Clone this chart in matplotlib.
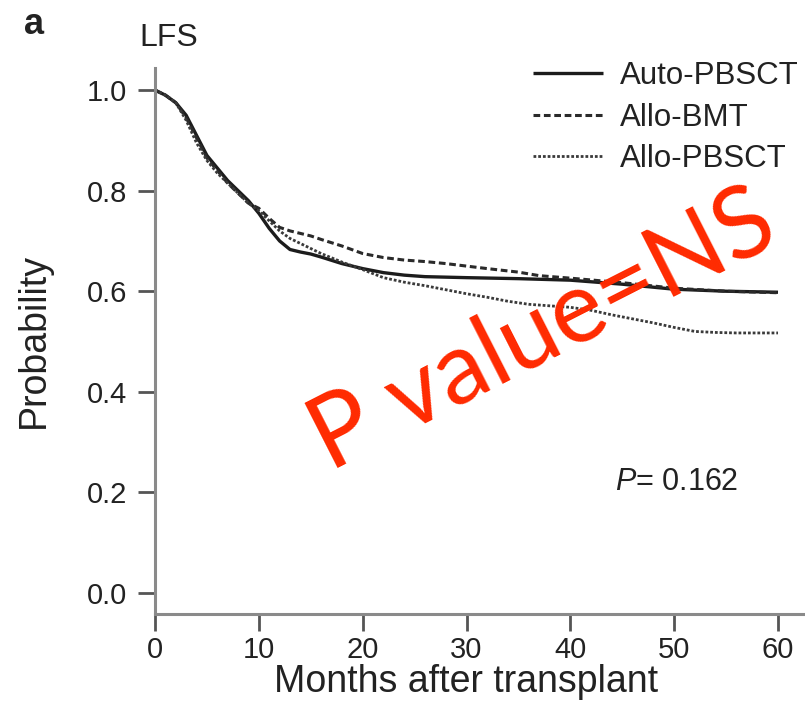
import matplotlib
matplotlib.use("Agg")
import matplotlib.pyplot as plt

FONT = ["Liberation Sans", "DejaVu Sans"]
plt.rcParams["font.family"] = FONT
plt.rcParams["mathtext.fontset"] = "custom"
plt.rcParams["mathtext.it"] = "Liberation Sans:italic"
plt.rcParams["mathtext.rm"] = "Liberation Sans"

# ---- data ----
t_auto = [0, 1, 2, 3, 4, 5, 6, 7, 8, 9, 10, 11, 12, 13, 14, 15, 16, 18, 20, 22, 24,
          26, 28, 30, 35, 40, 45, 50, 55, 60]
s_auto = [1.0, 0.99, 0.975, 0.95, 0.91, 0.87, 0.845, 0.82, 0.80, 0.78, 0.755, 0.725,
          0.70, 0.683, 0.678, 0.674, 0.668, 0.655, 0.645, 0.637, 0.632, 0.629, 0.628,
          0.627, 0.625, 0.622, 0.614, 0.604, 0.600, 0.598]

t_bmt = [0, 1, 2, 3, 4, 5, 6, 7, 8, 9, 10, 11, 12, 13, 14, 15, 16, 18, 20, 22, 24,
         26, 28, 30, 32, 35, 37, 40, 45, 50, 55, 60]
s_bmt = [1.0, 0.99, 0.975, 0.945, 0.905, 0.865, 0.84, 0.815, 0.795, 0.775, 0.765,
         0.745, 0.727, 0.72, 0.715, 0.71, 0.703, 0.69, 0.675, 0.667, 0.662, 0.659,
         0.655, 0.65, 0.645, 0.638, 0.631, 0.626, 0.617, 0.606, 0.600, 0.597]

t_pb = [0, 1, 2, 3, 4, 5, 6, 7, 8, 9, 10, 11, 12, 13, 14, 15, 16, 18, 20, 22, 24, 26,
        28, 30, 32, 34, 36, 40, 42, 44, 46, 48, 50, 52, 54, 56, 58, 60]
s_pb = [1.0, 0.99, 0.975, 0.94, 0.895, 0.86, 0.835, 0.815, 0.795, 0.775, 0.76, 0.74,
        0.72, 0.705, 0.695, 0.685, 0.675, 0.658, 0.643, 0.627, 0.618, 0.611, 0.603,
        0.595, 0.588, 0.58, 0.574, 0.568, 0.562, 0.553, 0.545, 0.537, 0.528, 0.52,
        0.518, 0.517, 0.517, 0.517]

labels = ["Auto-PBSCT", "Allo-BMT", "Allo-PBSCT"]
xticks = [0, 10, 20, 30, 40, 50, 60]
yticks = [0.0, 0.2, 0.4, 0.6, 0.8, 1.0]
ytick_labels = ["0.0", "0.2", "0.4", "0.6", "0.8", "1.0"]

# ---- figure ----
fig = plt.figure(figsize=(8.05, 7.26), dpi=100)
ax = fig.add_axes([155 / 805, 1 - 614 / 726, 650 / 805, (614 - 68) / 726])

l1, = ax.plot(t_auto, s_auto, color="#1c1c1c", lw=2.4, solid_capstyle="butt")
l2, = ax.plot(t_bmt, s_bmt, color="#2a2a2a", lw=2.2, dashes=(2.2, 1.2))
l3, = ax.plot(t_pb, s_pb, color="#3a3a3a", lw=2.0, dashes=(1.0, 0.7))

ax.set_xlim(0, 62.6)
ax.set_ylim(-0.042, 1.044)
ax.set_xticks(xticks)
ax.set_yticks(yticks)
ax.set_yticklabels(ytick_labels)

for sp in ["top", "right"]:
    ax.spines[sp].set_visible(False)
for sp in ["left", "bottom"]:
    ax.spines[sp].set_color("#8a8a8a")
    ax.spines[sp].set_linewidth(2.2)

ax.tick_params(axis="both", colors="#555555", width=2, length=12,
               labelcolor="#222222", labelsize=21)
ax.tick_params(axis="y", pad=8)
ax.tick_params(axis="x", pad=4)

ax.set_xlabel("Months after transplant", fontsize=27, color="#222222")
ax.xaxis.set_label_coords(30 / 62.6, -0.092)
ax.set_ylabel("Probability", fontsize=27, color="#222222")
ax.yaxis.set_label_coords(-0.158, 0.5)

leg = ax.legend([l1, l2, l3], labels, loc="upper right",
                bbox_to_anchor=(1.01, 1.035), frameon=False, fontsize=22.5,
                handlelength=2.25, handletextpad=0.55, labelspacing=0.36,
                borderaxespad=0.0)
for txt in leg.get_texts():
    txt.set_color("#222222")

fig.text(615 / 805, 1 - 482 / 726, r"$\mathit{P}$= 0.162", fontsize=22,
         color="#222222", ha="left", va="center")

fig.text(24 / 805, 1 - 24 / 726, "a", fontsize=26, fontweight="bold",
         color="#222222", ha="left", va="center")
fig.text(139 / 805, 1 - 38 / 726, "LFS", fontsize=23,
         color="#222222", ha="left", va="center")

fig.text(543 / 805, 1 - 331 / 726, "P value=NS", fontsize=72, color="#ff2a00",
         rotation=27, ha="center", va="center", rotation_mode="anchor",
         family=["Lato", "DejaVu Sans"])

fig.savefig("out.png", dpi=100)
